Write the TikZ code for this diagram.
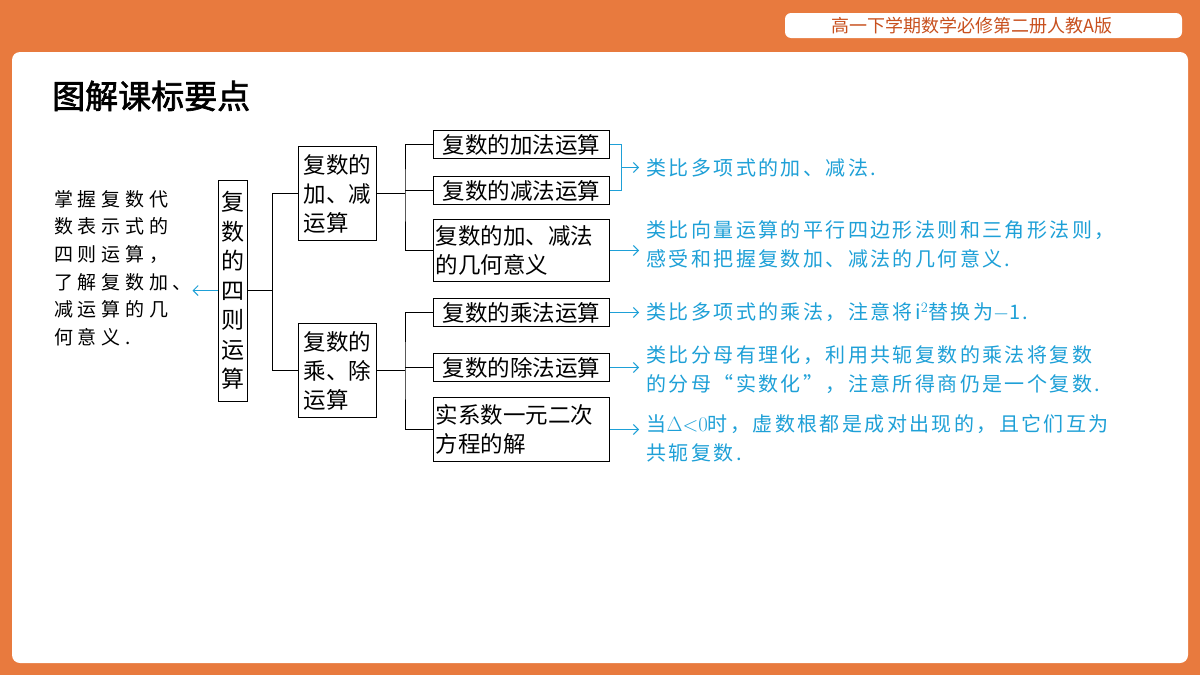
\documentclass[tikz,border=0pt]{standalone}
\usepackage{fontspec}
\usetikzlibrary{arrows.meta,calc}
\setmainfont{Noto Sans CJK SC}
\newfontfamily\cjkb[FakeBold=2]{Noto Sans CJK SC}
\newfontfamily\cjkw[LetterSpace=12]{Noto Sans CJK SC}
\newfontfamily\cjkl[LetterSpace=25]{Noto Sans CJK SC}
\definecolor{bgor}{RGB}{232,122,62}
\definecolor{hdtx}{RGB}{200,80,30}
\definecolor{bl}{RGB}{30,160,215}
\begin{document}
\begin{tikzpicture}[x=1pt,y=-1pt,
 bx/.style={draw,line width=1pt,inner sep=1pt,font=\fontsize{22.5}{24}\selectfont,align=left},
 ln/.style={line width=1pt},
 ba/.style={draw=bl,line width=1pt,-{Straight Barb[length=5pt]}},
 bt/.style={text=bl,font=\cjkw\fontsize{20}{29}\selectfont,anchor=west,align=left}]
\fill[bgor] (0,0) rectangle (1200,675);
\useasboundingbox (0,0) rectangle (1200,675);
\fill[white,rounded corners=8pt] (12,52) rectangle (1188,663);
\fill[white,rounded corners=6pt] (785,13) rectangle (1182,38);
\node[text=hdtx,font=\fontsize{18}{20}\selectfont] (hd) at (972,25.5) {高一下学期数学必修第二册人教A版};
\node[anchor=west,inner sep=0pt,font=\cjkb\fontsize{33}{36}\selectfont] (title) at (52,96) {图解课标要点};
% main
\node[bx,minimum width=29pt,minimum height=221pt,align=center,inner sep=1pt,font=\fontsize{23}{29.5}\selectfont] (m) at (232.5,290.5) {复\\数\\的\\四\\则\\运\\算};
\node[bx,minimum width=78pt,minimum height=94pt,anchor=north west,font=\fontsize{22.5}{29}\selectfont] (a) at (298,146) {复数的\\加、减\\运算};
\node[bx,minimum width=78pt,minimum height=94pt,anchor=north west,font=\fontsize{22.5}{29}\selectfont] (b) at (298,323) {复数的\\乘、除\\运算};
\node[bx,minimum width=176pt,minimum height=28pt,anchor=north west] (a1) at (433,130) {复数的加法运算};
\node[bx,minimum width=176pt,minimum height=28pt,anchor=north west] (a2) at (433,176) {复数的减法运算};
\node[bx,minimum width=176pt,minimum height=62pt,anchor=north west,text width=172pt,font=\fontsize{22.5}{29}\selectfont] (a3) at (433,219) {复数的加、减法\\的几何意义};
\node[bx,minimum width=176pt,minimum height=28pt,anchor=north west] (b1) at (433,298) {复数的乘法运算};
\node[bx,minimum width=176pt,minimum height=28pt,anchor=north west] (b2) at (433,353) {复数的除法运算};
\node[bx,minimum width=176pt,minimum height=64pt,anchor=north west,text width=172pt,font=\fontsize{22.5}{29}\selectfont] (b3) at (433,397) {实系数一元二次\\方程的解};
% tree lines
\draw[ln] (m.east) -- ++(25,0) coordinate (j0);
\draw[ln] (a.west) -| (j0) |- (b.west);
\draw[ln] (a.east) -- ++(28,0) coordinate (j1);
\draw[ln] (a1.west) -| (j1) |- (a3.west);
\draw[ln] (j1 |- a2.west) -- (a2.west);
\draw[ln] (b.east) -- ++(28,0) coordinate (j2);
\draw[ln] (b1.west) -| (j2) |- (b3.west);
\draw[ln] (j2 |- b2.west) -- (b2.west);
% left
\draw[ba] (m.west) -- ++(-25,0) coordinate (lt);
\node[anchor=west,align=left,inner sep=0pt,font=\cjkl\fontsize{19}{27.6}\selectfont] (lx) at (54,268) {掌握复数代\\数表示式的\\四则运算，\\了解复数加、\\减运算的几\\何意义.};
% blue
\draw[draw=bl,line width=1pt] (a1.east) -- ++(11,0) coordinate (k1) -- (k1 |- a2.east) -- (a2.east);
\coordinate (k) at ($(k1)!0.5!(k1 |- a2.east)$);
\draw[ba] (k) -- ++(18,0) coordinate (t1);
\draw[ba] (a3.east) -- ++(29,0) coordinate (t2);
\draw[ba] (b1.east) -- ++(29,0) coordinate (t3);
\draw[ba] (b2.east) -- ++(29,0) coordinate (t4);
\draw[ba] (b3.east) -- ++(29,0) coordinate (t5);
\node[bt] (x1) at ([xshift=4pt]t1) {类比多项式的加、减法.};
\node[bt] (x2) at ([xshift=4pt,yshift=6pt]t2) {类比向量运算的平行四边形法则和三角形法则，\\感受和把握复数加、减法的几何意义.};
\node[bt] (x3) at ([xshift=4pt]t3) {类比多项式的乘法，注意将i$^2$替换为$-$1.};
\node[bt] (x4) at ([xshift=4pt,yshift=-2pt]t4) {类比分母有理化，利用共轭复数的乘法将复数\\的分母“实数化”，注意所得商仍是一个复数.};
\node[bt] (x5) at ([xshift=4pt,yshift=-9pt]t5) {当$\Delta{<}0$时，虚数根都是成对出现的，且它们互为\\共轭复数.};
\end{tikzpicture}
\end{document}
